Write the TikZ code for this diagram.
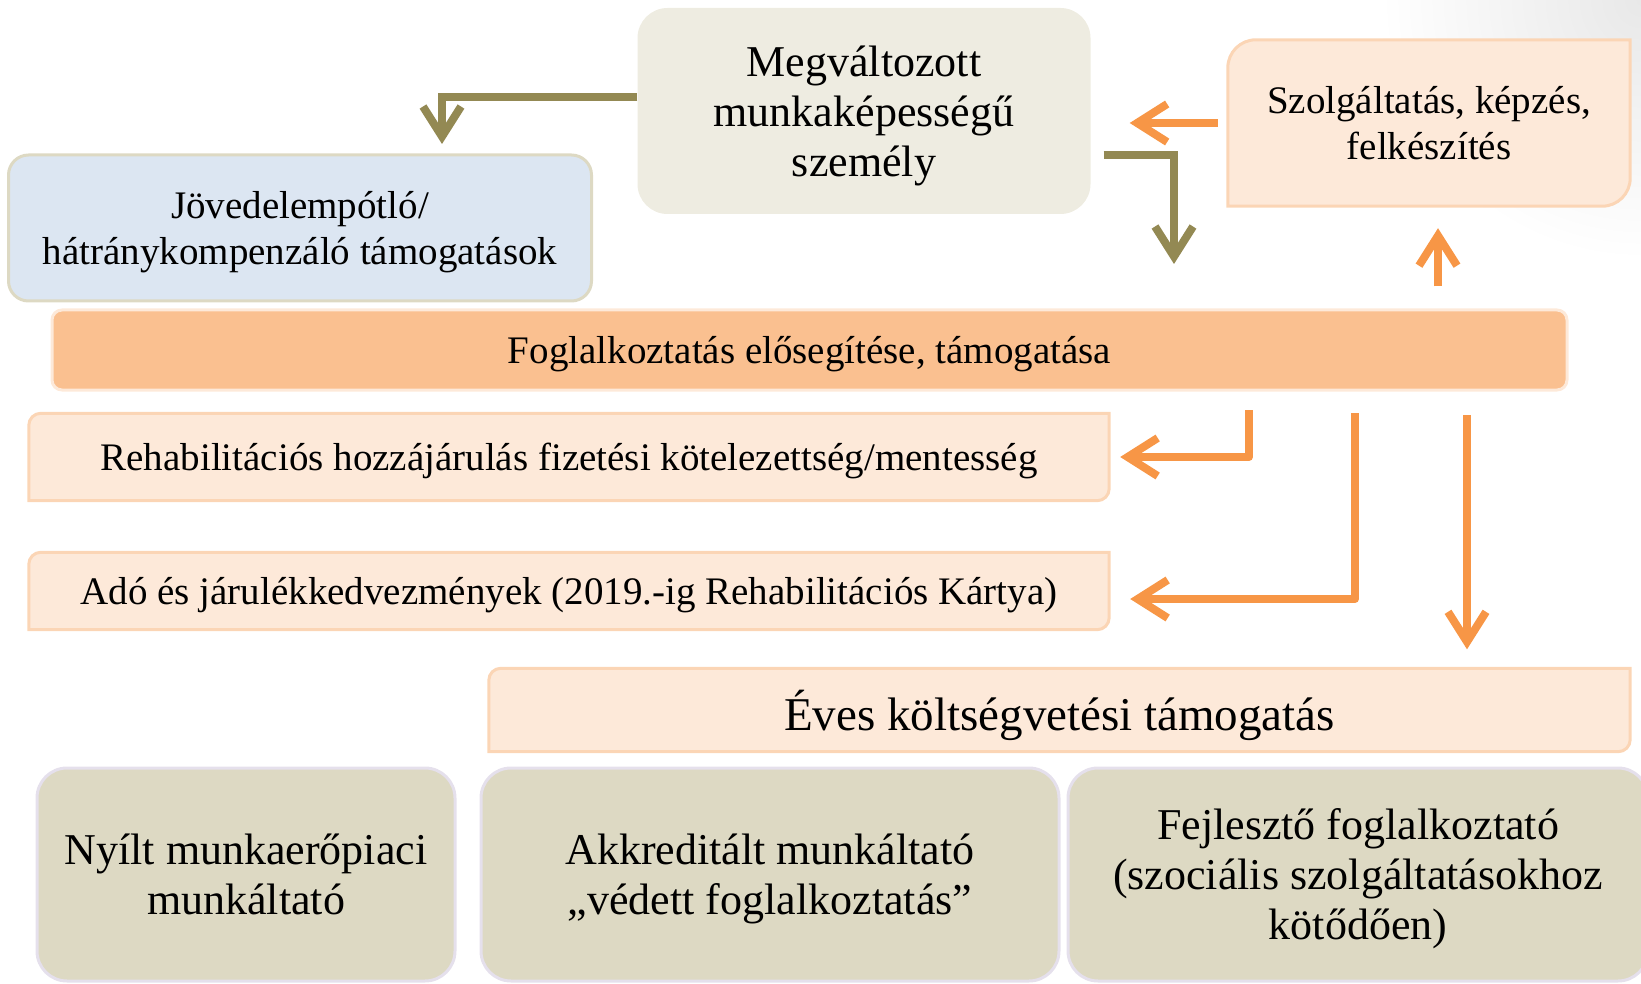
\documentclass[tikz,border=0pt]{standalone}
\usepackage{fontspec}
\setmainfont{Liberation Serif}
\usetikzlibrary{positioning, arrows.meta, backgrounds}

\definecolor{tanlt}{HTML}{EEECE1}
\definecolor{tanmd}{HTML}{DDD9C3}
\definecolor{tandk}{HTML}{938953}
\definecolor{bluelt}{HTML}{DCE6F2}
\definecolor{peachlt}{HTML}{FDE9D9}
\definecolor{peachmd}{HTML}{FBD5B5}
\definecolor{peachdk}{HTML}{FAC090}
\definecolor{orng}{HTML}{F79646}
\definecolor{lavlt}{HTML}{E5E0EC}

\begin{document}
\begin{tikzpicture}[x=1pt, y=-1pt]
	\tikzstyle{txt} = [font=\fontsize{39}{46}\selectfont, align=center, inner sep=0pt, text depth=0pt]
	\tikzstyle{bigtxt} = [font=\fontsize{44}{50}\selectfont, align=center, inner sep=0pt, text depth=0pt]
	\tikzstyle{employer} = [bigtxt, fill=tanmd, draw=lavlt, line width=3pt, rounded corners=30pt, minimum height=213pt]
	\tikzstyle{softframe} = [fill=peachlt, draw=peachmd, line width=3pt]
	\tikzstyle{orangearrow} = [draw=orng, line width=8pt, line join=round, -{Straight Barb[length=30pt, width=38pt]}]
	\tikzstyle{olivearrow} = [draw=tandk, line width=8pt, -{Straight Barb[length=30pt, width=38pt]}]
	\useasboundingbox (0,0) rectangle (1641,984);

	% top row
	\node[bigtxt, fill=tanlt, rounded corners=30pt, minimum width=453pt, minimum height=206pt] (megv) at (864,111) {Megváltozott\\munkaképességű\\személy};
	\node[txt, fill=bluelt, draw=tanmd, line width=3pt, rounded corners=20pt, minimum width=583pt, minimum height=146pt] (jov) at (300,228) {Jövedelempótló/\\hátránykompenzáló támogatások};
	\node[txt, minimum width=402pt, minimum height=166pt] (szolg) at (1429,123) {Szolgáltatás, képzés,\\felkészítés};

	% middle bars
	\node[txt, fill=peachdk, draw=peachlt, line width=3pt, rounded corners=10pt, minimum width=1515pt, minimum height=80pt] (foglal) at (809.5,350) {Foglalkoztatás elősegítése, támogatása};
	\node[txt, minimum width=1080pt, minimum height=87pt] (rehab) at (569,457) {Rehabilitációs hozzájárulás fizetési kötelezettség/mentesség};
	\node[txt, minimum width=1080pt, minimum height=77pt] (ado) at (569,591) {Adó és járulékkedvezmények (2019.-ig Rehabilitációs Kártya)};
	\node[font=\fontsize{47}{52}\selectfont, inner sep=0pt, text depth=0pt, minimum width=1141pt, minimum height=83pt] (eves) at (1059.5,710) {Éves költségvetési támogatás};

	% employers
	\node[employer, minimum width=418pt] (nyilt) at (246,874.5) {Nyílt munkaerőpiaci\\munkáltató};
	\node[employer, minimum width=578pt] (akkr) at (770,874.5) {Akkreditált munkáltató\\„védett foglalkoztatás”};
	\node[employer, minimum width=580pt] (fejl) at (1358,874.5) {Fejlesztő foglalkoztató\\(szociális szolgáltatásokhoz\\kötődően)};

	\begin{scope}[on background layer]
		\shade[inner color=black!9, outer color=white] (1641,0) circle (260pt);
		\foreach \n/\r in {szolg/28pt, rehab/12pt, ado/12pt, eves/12pt}
			\draw[softframe] (\n.south west) -- ([yshift=-\r]\n.north west) arc[start angle=180, end angle=90, radius=\r] -- (\n.north east) -- ([yshift=\r]\n.south east) arc[start angle=0, end angle=-90, radius=\r] -- cycle;
	\end{scope}

	% connectors
	\coordinate (o1) at (442,144);
	\coordinate (o2) at (1174,264);
	\coordinate (upx) at (1438,0);
	\coordinate (d1) at (1249,410);
	\coordinate (d2) at (1355,413);
	\coordinate (d3) at (1467,415);
	\draw[olivearrow] ([yshift=14pt]megv.west) -| (o1);
	\draw[olivearrow] ([shift={(13pt,-44pt)}]megv.east) -| (o2);
	\draw[orangearrow, shorten <=10pt, shorten >=39pt] (szolg.west) -- (szolg.west -| megv.east);
	\draw[orangearrow, shorten <=22pt, shorten >=22pt] (foglal.north -| upx) -- (szolg.south -| upx);
	\draw[orangearrow, shorten >=11pt] (d1) |- (rehab.east);
	\draw[orangearrow, shorten >=21pt] (d2) |- ([yshift=-8pt]ado.east);
	\draw[orangearrow, shorten >=19pt] (d3) -- (d3 |- eves.north);
\end{tikzpicture}
\end{document}
